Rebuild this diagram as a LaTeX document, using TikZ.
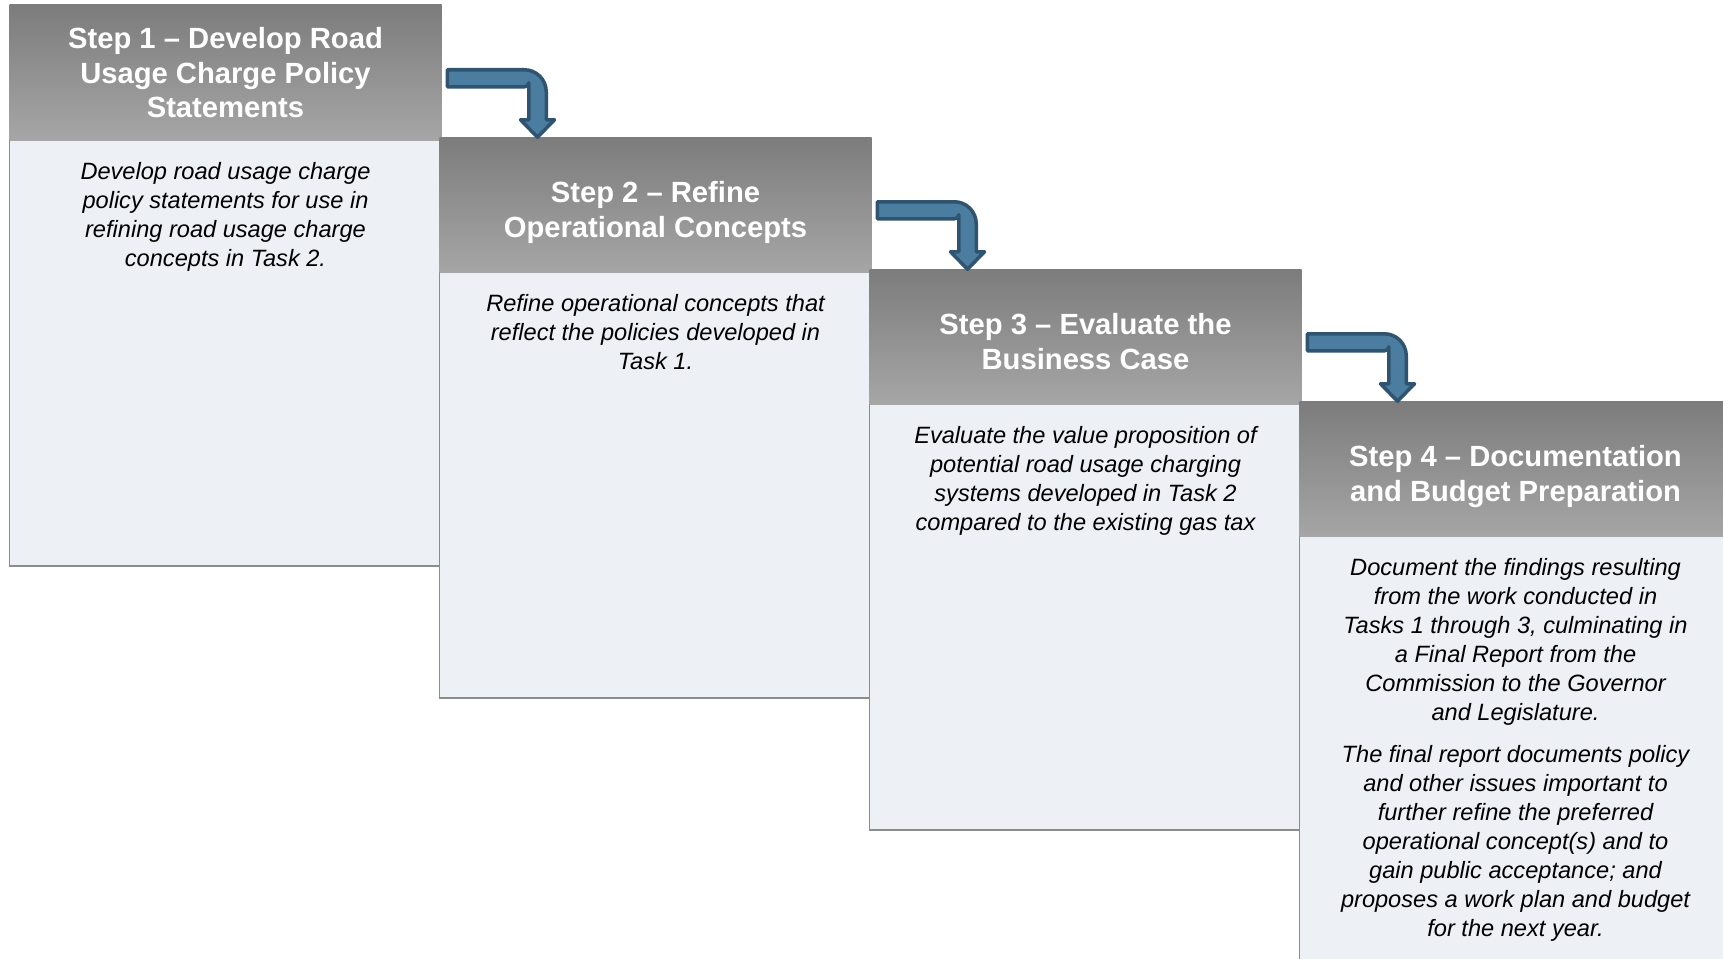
\documentclass[tikz,border=0pt]{standalone}
\usepackage{fontspec}
\setmainfont{Liberation Sans}
\usetikzlibrary{calc}
\definecolor{hdrtop}{RGB}{124,124,124}
\definecolor{hdrbot}{RGB}{166,166,166}
\definecolor{bodyfill}{RGB}{237,240,244}
\definecolor{bordergray}{RGB}{140,140,140}
\definecolor{arrowfill}{RGB}{74,125,160}
\definecolor{arrowline}{RGB}{48,84,112}
\tikzset{
  hdr/.style={anchor=north west, minimum width=432pt, minimum height=135.5pt,
    inner sep=0pt, outer sep=0pt, top color=hdrtop, bottom color=hdrbot, draw=none},
  bodybox/.style={anchor=north west, minimum width=432pt, minimum height=425.5pt,
    inner sep=0pt, outer sep=0pt, fill=bodyfill, draw=bordergray, line width=1.5pt},
  hdrtext/.style={anchor=north, inner sep=0pt, align=center, text=white,
    font=\fontsize{29.2}{34.5}\selectfont\bfseries},
  bodytext/.style={anchor=north, inner sep=0pt, align=center, text=black,
    font=\fontsize{23.6}{28.9}\selectfont\itshape},
  flowarrow/.style={fill=arrowfill, draw=arrowline, line width=3.5pt, line join=round}
}
\newcommand\stepArrow[1]{%
  \begin{scope}[shift={(#1.north west)}]
    \draw[flowarrow] (7.75,-67.25) -- (84.75,-67.25)
      .. controls (96.9,-67.25) and (106.75,-57.4) .. (106.75,-45.25)
      -- (106.75,-17.25) -- (115,-17.25) -- (98,0.25) -- (81,-17.25)
      -- (89.25,-17.25) -- (89.25,-54.25)
      .. controls (89.25,-52.04) and (87.46,-50.25) .. (85.25,-50.25)
      -- (7.75,-50.25) -- cycle;
  \end{scope}}
\begin{document}
\begin{tikzpicture}[x=1pt,y=-1pt]
\useasboundingbox (0,0) rectangle (1723,958);
\clip (0,0) rectangle (1723,958);
\fill[white] (0,0) rectangle (1723,958);

% Step 1
\node[bodybox] (b1) at (9.5,140.5) {};
\node[hdr] (h1) at (9.5,5) {};
\node[hdrtext] (ht1) at ($(h1.north)+(0,22.4)$) {Step 1 – Develop Road\\Usage Charge Policy\\Statements};
\node[bodytext] (bt1) at ($(b1.north)+(0,22.1)$) {Develop road usage charge\\policy statements for use in\\refining road usage charge\\concepts in Task 2.};

% Step 2
\node[bodybox] (b2) at (439.5,272.5) {};
\node[hdr] (h2) at (439.5,137) {};
\node[hdrtext] (ht2) at ($(h2.north)+(0,44.6)$) {Step 2 – Refine\\Operational Concepts};
\node[bodytext] (bt2) at ($(b2.north)+(0,22.1)$) {Refine operational concepts that\\reflect the policies developed in\\Task 1.};

% Step 3
\node[bodybox] (b3) at (869.5,404.5) {};
\node[hdr] (h3) at (869.5,269) {};
\node[hdrtext] (ht3) at ($(h3.north)+(0,44.6)$) {Step 3 – Evaluate the\\Business Case};
\node[bodytext] (bt3) at ($(b3.north)+(0,22.1)$) {Evaluate the value proposition of\\potential road usage charging\\systems developed in Task 2\\compared to the existing gas tax};

% Step 4
\node[bodybox] (b4) at (1299.5,536.5) {};
\node[hdr] (h4) at (1299.5,401) {};
\node[hdrtext] (ht4) at ($(h4.north)+(0,44.6)$) {Step 4 – Documentation\\and Budget Preparation};
\node[bodytext] (bt4) at ($(b4.north)+(0,22.1)$) {Document the findings resulting\\from the work conducted in\\Tasks 1 through 3, culminating in\\a Final Report from the\\Commission to the Governor\\and Legislature.\\[13.4pt]The final report documents policy\\and other issues important to\\further refine the preferred\\operational concept(s) and to\\gain public acceptance; and\\proposes a work plan and budget\\for the next year.};

% Arrows
\stepArrow{h2}
\stepArrow{h3}
\stepArrow{h4}
\end{tikzpicture}
\end{document}
